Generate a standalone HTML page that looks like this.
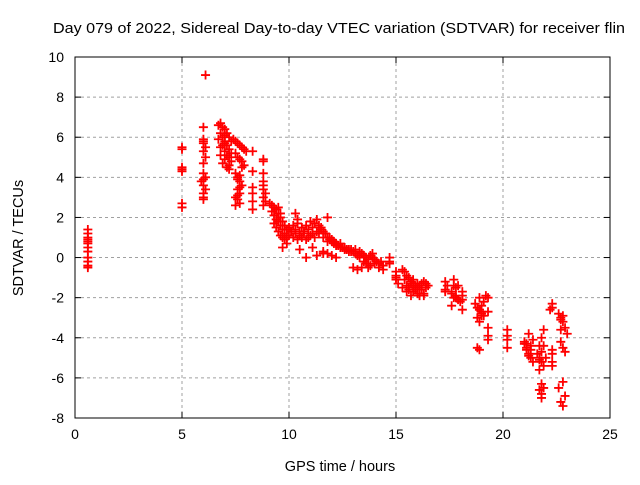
<!DOCTYPE html>
<html><head><meta charset="utf-8"><style>
body{margin:0;background:#fff}
svg text{font-family:"Liberation Sans",sans-serif;fill:#000}
</style></head><body>
<svg width="640" height="480" viewBox="0 0 640 480" id="chart">
<rect width="640" height="480" fill="#fff"/>
<text x="53" y="33" font-size="14.5" textLength="572" lengthAdjust="spacingAndGlyphs">Day 079 of 2022, Sidereal Day-to-day VTEC variation (SDTVAR) for receiver flin</text>
<g id="grid"></g>
<g id="axes"></g>
<g id="marks"></g>
<text x="340" y="471" font-size="14.5" text-anchor="middle">GPS time / hours</text>
<text x="23" y="238" font-size="14.5" text-anchor="middle" transform="rotate(-90 23 238)">SDTVAR / TECUs</text>
</svg>
<script>
const xTicks=[0,5,10,15,20,25];
const yTicks=[-8,-6,-4,-2,0,2,4,6,8,10];
const hours=[0.6,0.6,0.6,0.6,0.6,0.6,0.6,0.6,0.6,0.6,0.6,0.6,
5.0,5.0,5.0,5.0,5.0,5.0,5.0,
6.1,6.0,6.0,6.0,6.1,6.0,6.1,6.0,6.0,6.1,6.0,5.9,6.0,6.1,6.0,6.0,6.0,6.0,
6.7,6.8,6.9,7.0,7.1,7.2,7.3,6.8,6.9,7.0,7.1,7.2,6.7,6.9,7.0,7.1,7.2,7.3,6.8,7.0,7.2,6.9,7.1,7.3,7.0,6.8,7.2,7.0,
7.4,7.5,7.6,7.7,7.8,7.9,8.0,7.5,7.6,7.7,7.8,7.9,7.5,7.6,7.7,7.8,7.6,7.7,7.5,7.6,7.7,7.8,7.6,7.7,7.5,7.6,7.7,
8.3,8.3,8.3,8.3,8.3,8.3,8.8,8.8,8.8,8.8,8.8,8.8,8.9,8.8,8.9,8.8,
9.1,9.2,9.3,9.4,9.5,9.6,9.7,9.8,9.9,9.2,9.3,9.4,9.5,9.6,9.7,9.8,9.9,9.3,9.4,9.5,9.6,9.7,9.8,9.9,9.5,9.6,9.7,
10.0,10.1,10.2,10.3,10.4,10.5,10.6,10.7,10.8,10.9,11.0,11.1,11.2,11.3,11.4,11.5,11.6,11.7,11.8,11.9,12.0,12.1,12.2,12.3,12.4,12.5,12.6,12.7,12.8,12.9,
10.0,10.2,10.4,10.6,10.8,11.0,11.2,11.4,11.6,11.8,12.0,12.2,12.4,12.6,12.8,
10.1,10.3,10.5,10.7,10.9,11.1,11.3,11.5,11.7,11.9,12.1,12.3,12.5,12.7,12.9,
10.3,10.5,10.8,11.3,11.6,11.8,12.0,12.2,10.4,11.1,11.6,11.8,
13.0,13.1,13.2,13.3,13.4,13.5,13.6,13.7,13.8,13.9,14.0,14.1,14.2,14.3,14.4,13.0,13.2,13.4,13.6,13.8,14.0,14.2,14.4,13.1,13.3,13.5,13.7,13.9,
14.7,14.7,14.7,15.0,15.0,15.0,15.1,15.0,
15.3,15.4,15.5,15.6,15.7,15.8,15.9,16.0,16.1,16.2,16.3,16.4,16.5,15.4,15.6,15.8,16.0,16.2,16.4,15.5,15.7,15.9,16.1,16.3,15.6,15.8,16.0,15.3,15.5,15.7,15.9,16.1,16.3,
17.3,17.3,17.4,17.3,17.6,17.7,17.8,17.9,18.0,17.6,17.7,17.8,17.9,17.7,17.8,17.6,18.1,18.1,18.1,18.1,
18.7,18.8,18.9,19.0,19.1,18.8,18.9,19.0,19.1,18.9,19.0,18.8,19.0,19.2,18.9,18.9,19.3,19.3,19.3,19.3,19.3,
20.2,20.2,20.2,20.2,
21.0,21.1,21.2,21.3,21.4,21.1,21.2,21.3,21.0,21.2,21.4,21.1,21.3,
21.6,21.7,21.8,21.9,22.0,21.7,21.8,21.9,21.7,21.8,21.9,21.8,21.7,21.8,21.9,21.8,21.7,
22.3,22.3,22.3,22.3,22.3,22.3,22.2,
22.6,22.7,22.8,22.9,23.0,22.7,22.8,22.9,22.7,22.8,22.6,22.9,22.7,22.8,22.8,22.7,22.8,22.8,22.7];
const values=[1.4,1.2,1.0,0.9,0.8,0.7,0.5,0.3,0.0,-0.2,-0.4,-0.5,
5.5,5.4,4.5,4.4,4.3,2.7,2.5,
9.1,6.5,5.9,5.7,5.5,5.3,5.0,4.7,4.2,4.0,3.9,3.8,3.6,3.4,3.2,3.0,2.9,5.8,
6.6,6.7,6.5,6.4,6.2,6.0,5.8,6.2,6.0,5.8,5.6,5.4,5.9,5.6,5.3,5.1,5.0,4.8,5.1,4.9,4.6,4.7,4.5,5.2,6.1,5.5,4.4,5.7,
5.9,5.8,5.7,5.6,5.5,5.4,5.3,5.2,5.0,4.9,4.8,4.6,4.2,4.0,3.8,3.6,3.4,3.2,3.0,2.9,2.7,4.5,3.9,3.5,2.6,3.1,4.1,
5.3,4.3,3.5,3.2,2.8,2.4,4.9,4.8,4.2,3.8,3.6,3.4,3.2,3.0,2.8,2.6,
2.7,2.6,2.5,2.4,2.2,2.0,1.8,1.6,1.4,2.3,2.1,1.9,1.8,1.6,1.4,1.2,1.0,1.7,1.5,1.3,1.1,1.0,0.9,0.7,2.5,2.2,0.5,
1.5,1.3,1.6,1.4,1.7,1.3,1.5,1.2,1.6,1.4,1.8,1.5,1.7,1.9,1.6,1.5,1.3,1.2,1.0,0.9,0.8,0.7,0.7,0.6,0.5,0.5,0.4,0.4,0.3,0.3,
1.1,1.0,0.9,1.0,0.9,1.1,1.0,1.2,1.0,0.8,0.9,0.6,0.7,0.5,0.4,
1.3,1.2,1.1,1.3,1.0,1.2,1.3,1.4,1.2,1.0,0.8,0.6,0.5,0.4,0.4,
2.2,0.4,0.0,0.1,0.3,0.2,0.1,0.0,1.9,0.5,0.2,2.0,
0.3,0.2,0.1,0.0,0.2,0.1,0.0,-0.1,0.1,0.0,-0.1,-0.2,-0.3,-0.2,-0.4,-0.5,-0.6,-0.5,-0.3,-0.4,-0.3,-0.5,-0.6,0.4,0.3,-0.2,-0.5,0.2,
0.0,-0.2,-0.3,-0.7,-0.9,-1.1,-1.3,-1.0,
-0.6,-0.7,-0.9,-1.0,-1.2,-1.3,-1.4,-1.5,-1.4,-1.3,-1.2,-1.3,-1.4,-1.1,-1.5,-1.7,-1.8,-1.6,-1.5,-1.7,-1.9,-1.5,-1.9,-1.8,-1.6,-1.1,-1.3,-1.5,-1.4,-1.3,
-1.6,-1.8,-1.9,-1.7,-1.2,-1.4,-1.6,-1.8,-2.0,-1.9,-2.1,-2.2,-1.7,-1.1,-1.5,-1.4,-1.4,-2.0,-2.4,-2.6,
-1.7,-1.9,-2.1,-2.3,-2.5,-2.6,-2.8,-2.9,-3.0,-2.0,-2.4,-2.2,-4.6,-2.7,-4.5,-2.9,-1.9,-2.6,-3.2,-3.9,-4.1,
-2.0,-2.7,-3.5,-4.5,
-3.6,-3.9,-4.1,-4.3,-4.6,-4.8,-5.0,-5.2,-4.5,-3.8,-4.4,-4.2,-4.9,
-4.1,-4.3,-4.6,-4.8,-5.0,-5.2,-5.4,-5.0,-5.6,-4.7,-4.4,-5.1,-6.3,-6.5,-6.8,-6.6,-7.0,
-3.6,-4.0,-4.4,-4.8,-5.2,-5.4,-4.6,
-2.5,-2.3,-2.6,-2.8,-3.0,-3.2,-3.5,-3.8,-4.2,-4.5,-4.7,-3.1,-6.2,-6.5,-6.9,-7.2,-7.4,-2.9,-3.6];
const NS='http://www.w3.org/2000/svg';
const X0=75,X1=610,Y0=418,Y1=57;
function sx(h){return X0+(h-0)/(25-0)*(X1-X0);}
function sy(v){return Y0-(v-(-8))/(10-(-8))*(Y0-Y1);}
function mk(tag,attrs,parent){const e=document.createElementNS(NS,tag);for(const k in attrs)e.setAttribute(k,attrs[k]);parent.appendChild(e);return e;}
const grid=document.getElementById('grid'),axes=document.getElementById('axes'),marks=document.getElementById('marks');
xTicks.forEach(t=>{const x=sx(t);
 if(t>0&&t<25){const g=mk('line',{x1:x,x2:x,y1:Y1,y2:Y0,stroke:'#a0a0a0','stroke-dasharray':'3,3','stroke-width':1},grid);
 
 }
 mk('line',{x1:x,x2:x,y1:Y0,y2:Y0-6,stroke:'#000'},axes);
 mk('line',{x1:x,x2:x,y1:Y1,y2:Y1+6,stroke:'#000'},axes);
 const l=mk('text',{x:x,y:Y0+21,'font-size':14,'text-anchor':'middle'},axes);l.textContent=t;
 
 });
yTicks.forEach(t=>{const y=sy(t);
 if(t>-8&&t<10){const g=mk('line',{x1:X0,x2:X1,y1:y,y2:y,stroke:'#a0a0a0','stroke-dasharray':'3,3','stroke-width':1},grid);
 
 }
 mk('line',{x1:X0,x2:X0+6,y1:y,y2:y,stroke:'#000'},axes);
 mk('line',{x1:X1,x2:X1-6,y1:y,y2:y,stroke:'#000'},axes);
 const l=mk('text',{x:X0-11,y:y+5,'font-size':14,'text-anchor':'end'},axes);l.textContent=t;
 
 });
const fr=mk('rect',{x:X0,y:Y1,width:X1-X0,height:Y0-Y1,fill:'none',stroke:'#000'},axes);


hours.forEach((h,i)=>{const x=sx(h),y=sy(values[i]);
 const p=mk('path',{d:`M${x-4.5},${y}H${x+4.5}M${x},${y-4.5}V${y+4.5}`,stroke:'#f00','stroke-width':1.8,fill:'none'},marks);
 
 });
</script>
</body></html>
